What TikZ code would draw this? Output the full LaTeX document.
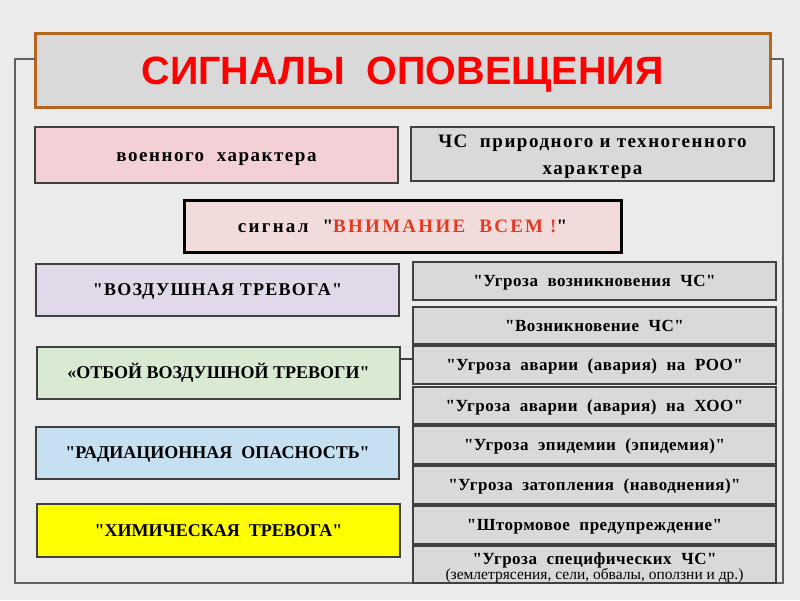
\documentclass[tikz,border=0pt]{standalone}
\usepackage{fontspec}
\setmainfont{Liberation Serif}[Ligatures=TeXOff]
\newfontfamily\arialfont{Liberation Sans}[Ligatures=TeXOff]
\definecolor{bgc}{HTML}{EBEBEB}
\definecolor{titlefill}{HTML}{D9D9D9}
\definecolor{titleborder}{HTML}{B5651D}
\definecolor{pinkfill}{HTML}{F2D0D5}
\definecolor{sigfill}{HTML}{F2DCDB}
\definecolor{lavfill}{HTML}{E1D9E9}
\definecolor{greenfill}{HTML}{D9EAD3}
\definecolor{bluefill}{HTML}{C6E0F2}
\definecolor{yelfill}{HTML}{FFFF00}
\definecolor{grayfill}{HTML}{D9D9D9}
\definecolor{edgec}{HTML}{404040}
\definecolor{framec}{HTML}{606060}
\definecolor{sigred}{HTML}{E8391F}
\tikzset{
  box/.style={draw=edgec, line width=1.5pt, inner sep=0pt, outer sep=0pt, align=center},
  rbox/.style={box, text height=11.2pt, text depth=0pt, fill=grayfill, line width=1.8pt, minimum width=363pt, minimum height=38pt,
    font=\fontsize{17}{19}\selectfont\bfseries\addfontfeature{LetterSpace=3}},
  lbox/.style={box, text height=11.9pt, text depth=0pt, minimum width=363pt, minimum height=52pt, font=\fontsize{18}{21}\selectfont\bfseries},
  frameline/.style={draw=framec, line width=1.3pt}
}
\begin{document}
\begin{tikzpicture}[x=1pt,y=-1pt]
\fill[bgc] (0,0) rectangle (800,600);
\useasboundingbox (0,0) rectangle (800,600);
% title
\node[box, fill=titlefill, draw=titleborder, line width=3pt, minimum width=735pt, minimum height=74pt,
  text height=28.3pt, text depth=0pt,
  font=\arialfont\fontsize{39.5}{44}\selectfont\bfseries, text=red] (title) at (402.5,70) {СИГНАЛЫ\ \ ОПОВЕЩЕНИЯ};
% frame
\coordinate (ftl) at (15,59);
\coordinate (fbl) at (15,583);
\coordinate (fbr) at (783,583);
\coordinate (ftr) at (783,59);
\draw[frameline] (title.west |- ftl) -- (ftl) -- (fbl) -- (fbr) -- (ftr) -- (title.east |- ftr);
% headers
\node[box, text height=12.5pt, text depth=0pt, fill=pinkfill, minimum width=363pt, minimum height=56pt,
  font=\fontsize{19}{27}\selectfont\bfseries\addfontfeature{LetterSpace=8}] (voen) at (216.5,155) {военного\ \ характера};
\node[box, fill=grayfill, minimum width=363pt, minimum height=54pt] (chs) at (592.5,154) {};
\node[align=center, inner sep=0pt, font=\fontsize{19}{27}\selectfont\bfseries\addfontfeature{LetterSpace=8}] (chstext) at (592.5,156.5) {ЧС\ \ природного и техногенного\\характера};
\node[box, text height=12.5pt, text depth=0pt, fill=sigfill, draw=black, line width=3pt, minimum width=437pt, minimum height=52pt,
  font=\fontsize{19}{21}\selectfont\bfseries\addfontfeature{LetterSpace=12}] (signal) at (402.5,226) {сигнал\ \ "{\color{sigred}ВНИМАНИЕ\ \ ВСЕМ~!}"};
% left column
\node[lbox, fill=lavfill, font=\fontsize{18}{21}\selectfont\bfseries\addfontfeature{LetterSpace=7}] (l1) at (217.5,290) {"ВОЗДУШНАЯ ТРЕВОГА"};
\node[lbox, fill=greenfill] (l2) at (218.5,373) {«ОТБОЙ ВОЗДУШНОЙ ТРЕВОГИ"};
\node[lbox, fill=bluefill] (l3) at (217.5,453) {"РАДИАЦИОННАЯ\ \ ОПАСНОСТЬ"};
\node[lbox, fill=yelfill, minimum height=53pt] (l4) at (218.5,530.5) {"ХИМИЧЕСКАЯ\ \ ТРЕВОГА"};
% right column
\node[rbox] (r1) at (594.5,281) {"Угроза\ \ возникновения\ \ ЧС"};
\node[rbox, minimum height=37pt] (r2) at (594.5,325.5) {"Возникновение\ \ ЧС"};
\node[rbox] (r3) at (594.5,365) {"Угроза\ \ аварии\ \ (авария)\ \ на\ \ РОО"};
\node[rbox, minimum height=37pt] (r4) at (594.5,405.5) {"Угроза\ \ аварии\ \ (авария)\ \ на\ \ ХОО"};
\node[rbox] (r5) at (594.5,445) {"Угроза\ \ эпидемии\ \ (эпидемия)"};
\node[rbox] (r6) at (594.5,485) {"Угроза\ \ затопления\ \ (наводнения)"};
\node[rbox] (r7) at (594.5,525) {"Штормовое\ \ предупреждение"};
\node[rbox, minimum height=37pt] (r8) at (594.5,564.5) {};
\node[align=center, inner sep=0pt, font=\fontsize{17}{19}\selectfont\bfseries\addfontfeature{LetterSpace=3}] (r8text) at (594.5,567.5)
  {"Угроза\ \ специфических\ \ ЧС"\\[-4pt]{\normalfont\fontsize{15.5}{16}\selectfont(землетрясения, сели, обвалы, оползни и др.)}};
% connector
\draw[frameline, draw=edgec] ([yshift=14pt]l2.east) -- ([yshift=14pt]l2.east -| r3.west);
\end{tikzpicture}
\end{document}
